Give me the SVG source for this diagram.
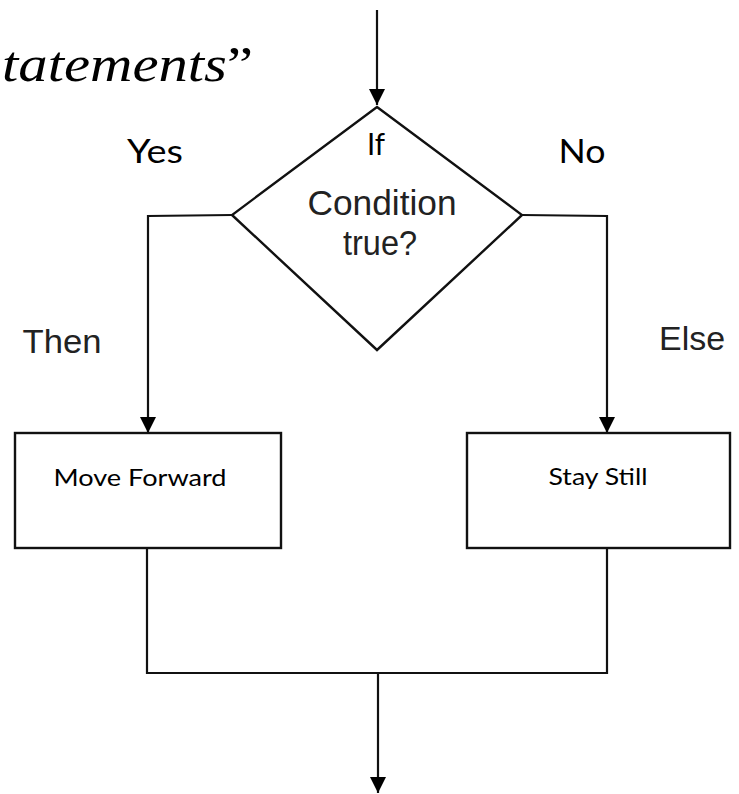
<svg xmlns="http://www.w3.org/2000/svg" width="739" height="794" viewBox="0 0 739 794">
<defs>
<marker id="arrow" viewBox="0 0 16 16" refX="16" refY="8" markerWidth="16" markerHeight="16" markerUnits="userSpaceOnUse" orient="auto">
<path d="M0,0 L16,8 L0,16 z" fill="#000"/>
</marker>
<style>
.ln{fill:none;stroke:#111;stroke-width:2.2}
.shape{fill:#fff;stroke:#111;stroke-width:2.4}
.cal{font-family:Lato,"Open Sans","Liberation Sans",sans-serif;fill:#000}
.ari{font-family:"Liberation Sans",Arial,sans-serif;fill:#222}
</style>
</defs>
<rect width="739" height="794" fill="#fff"/>
<text x="2" y="81" font-family="'Liberation Serif','DejaVu Serif',serif" font-size="50" textLength="251" lengthAdjust="spacingAndGlyphs" fill="#000"><tspan font-style="italic">tatements</tspan>”</text>
<g id="connectors">
<path class="ln" d="M377,10 L377,105" marker-end="url(#arrow)"/>
<path class="ln" d="M232,215 L148,216 L148,433" marker-end="url(#arrow)"/>
<path class="ln" d="M522,215 L607,216 L607,433" marker-end="url(#arrow)"/>
<path class="ln" d="M147,548 L147,673 L607,673 L607,548"/>
<path class="ln" d="M378,673 L378,793" marker-end="url(#arrow)"/>
</g>
<g id="labels">
<text class="cal" x="155" y="163" font-size="33" text-anchor="middle" textLength="56" lengthAdjust="spacingAndGlyphs">Yes</text>
<text class="cal" x="582" y="163" font-size="33" text-anchor="middle" textLength="47" lengthAdjust="spacingAndGlyphs">No</text>
<text class="ari" x="62" y="353" font-size="33" text-anchor="middle" textLength="79" lengthAdjust="spacingAndGlyphs">Then</text>
<text class="ari" x="692" y="350" font-size="33" text-anchor="middle" textLength="66" lengthAdjust="spacingAndGlyphs">Else</text>
</g>
<g id="decision">
<polygon class="shape" points="377,107 522,215 377,350 232,215"/>
<text class="cal" x="376" y="155" font-size="30" text-anchor="middle" textLength="18" lengthAdjust="spacingAndGlyphs">If</text>
<text class="ari" x="382" y="215" font-size="35" text-anchor="middle" textLength="149" lengthAdjust="spacingAndGlyphs">Condition</text>
<text class="ari" x="380" y="255" font-size="35" text-anchor="middle" textLength="74" lengthAdjust="spacingAndGlyphs">true?</text>
</g>
<g id="move-forward">
<rect class="shape" x="15" y="433" width="266" height="115"/>
<text class="cal" x="140" y="486" font-size="24" text-anchor="middle" textLength="173" lengthAdjust="spacingAndGlyphs">Move Forward</text>
</g>
<g id="stay-still">
<rect class="shape" x="467" y="433" width="263" height="115"/>
<text class="cal" x="598" y="485" font-size="24" text-anchor="middle" textLength="99" lengthAdjust="spacingAndGlyphs">Stay Still</text>
</g>
</svg>
